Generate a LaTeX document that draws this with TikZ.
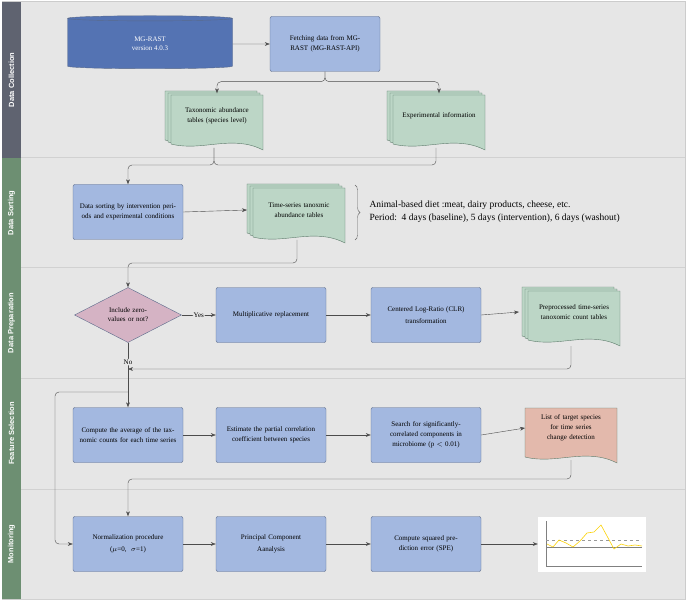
\documentclass[tikz,border=0pt]{standalone}
\usepackage{fontspec}
\setmainfont{Liberation Serif}
\newfontfamily\lanefont{Liberation Sans}
\usetikzlibrary{shapes.geometric,arrows.meta,decorations.pathreplacing}
\definecolor{bgc}{HTML}{E6E6E6}
\definecolor{boxc}{HTML}{A3B8E0}
\definecolor{boxd}{HTML}{5A6A8A}
\definecolor{cylc}{HTML}{5473B3}
\definecolor{docc}{HTML}{BCD6C6}
\definecolor{docd}{HTML}{5C7A6A}
\definecolor{decc}{HTML}{D5B3C4}
\definecolor{listc}{HTML}{E3B9AC}
\definecolor{lanea}{HTML}{5F6370}
\definecolor{laneb}{HTML}{6D8F72}
\tikzset{
  proc/.style  = {draw=boxd, fill=boxc, rounded corners=2pt, minimum width=110pt,
                  minimum height=55pt, text width=100pt, align=center, font=\fontsize{7}{10}\selectfont},
  doctext/.style = {minimum width=80pt, minimum height=45pt, text width=78pt, align=center,
                  font=\fontsize{7}{10}\selectfont},
  link/.style  = {draw=black!70, -{Stealth[length=5pt]}, rounded corners=4pt},
  lane/.style  = {fill=#1, draw=none},
  lanetext/.style = {rotate=90, text=white, font=\lanefont\bfseries\fontsize{7.5}{9}\selectfont}
}
% wavy document sheet centred at (#1,#2)
\newcommand\docsheet[3]{%
  \draw[draw=docd, fill=#3] (#1-46,#2-27) -- (#1+46,#2-27) -- (#1+46,#2+28)
    .. controls (#1+15,#2+12) and (#1-15,#2+30) .. (#1-46,#2+22) -- cycle;}
\newcommand\docstack[3]{%
  \docsheet{#1-6}{#2-4}{#3}\docsheet{#1-3}{#2-2}{#3}\docsheet{#1}{#2}{#3}}
\begin{document}
\begin{tikzpicture}[x=1pt, y=-1pt]
  \useasboundingbox (0,0) rectangle (687,601);
  % lanes
  \fill[bgc] (2,2) rectangle (685,599);
  \draw[black!20, line width=1pt] (2,2) rectangle (685,599);
  \foreach \ya/\yb/\c/\t in {2/158/lanea/Data Collection, 158/268/laneb/Data Sorting,
      268/378/laneb/Data Preparation, 378/489/laneb/Feature Selection, 489/599/laneb/Monitoring}{
    \fill[lane=\c] (2,\ya) rectangle (21,\yb);
    \draw[black!18, line width=1pt] (21,\yb) -- (685,\yb);
    \node[lanetext] at (11.5,{(\ya+\yb)/2}) {\t};
  }
  % data collection
  \node[cylinder, shape border rotate=90, aspect=0.12, draw=boxd, fill=cylc, minimum width=165pt,
        minimum height=53pt, text=white, align=center, font=\fontsize{7}{9}\selectfont] (mgrast) at (150,44)
        {MG-RAST\\version 4.0.3};
  \node[proc] (fetch) at (325,44) {Fetching data from MG-RAST (MG-RAST-API)};
  \docstack{217}{122}{docc}
  \node[doctext] (taxo) at (217,116) {Taxonomic abundance tables (species level)};
  \docstack{439}{122}{docc}
  \node[doctext] (expinfo) at (439,116) {Experimental information};
  % data sorting
  \node[proc] (sorting) at (128,212) {Data sorting by intervention periods and experimental conditions};
  \docstack{299}{215}{docc}
  \node[doctext] (tseries) at (299,210) {Time-series tanoxmic abundance tables};
  \draw[black!60, decorate, decoration={brace, amplitude=5pt}] (355,185) -- (355,240);
  \node[anchor=west, align=left, font=\fontsize{9.5}{13}\selectfont] (diet) at (366,212)
    {Animal-based diet :meat, dairy products, cheese, etc.\\
     Period:\ \ 4 days (baseline), 5 days (intervention), 6 days (washout)};
  % data preparation
  \node[diamond, draw=boxd, fill=decc, aspect=1.55, minimum width=107pt, minimum height=55pt,
        inner sep=0pt, text width=60pt, align=center, font=\fontsize{7}{9}\selectfont] (zero) at (128,315)
        {Include zero-values or not?};
  \node[proc] (mult) at (271,315) {Multiplicative replacement};
  \node[proc] (clr) at (426,315) {Centered Log-Ratio (CLR)\\[2pt] transformation};
  \docstack{574}{318}{docc}
  \node[doctext] (prep) at (574,312) {Preprocessed time-series tanoxomic count tables};
  % feature selection
  \node[proc] (avg) at (128,435) {Compute the average of the taxnomic counts for each time series};
  \node[proc] (pcorr) at (271,435) {Estimate the partial correlation coefficient between species};
  \node[proc] (search) at (426,435) {Search for significantly-correlated components in microbiome (p $<$ 0.01)};
  \docsheet{571}{435}{listc}
  \node[doctext] (target) at (571,428) {List of target species for time series change detection};
  % monitoring
  \node[proc] (norm) at (128,544) {Normalization procedure\\[2pt] ($\mu$=0,\ \ $\sigma$=1)};
  \node[proc] (pca) at (271,544) {Principal Component\\[2pt] Aanalysis};
  \node[proc] (spe) at (426,544) {Compute squared prediction error (SPE)};
  \node[fill=white, minimum width=108pt, minimum height=55pt, inner sep=0pt] (chart) at (592,544) {};
  \draw[black!50, line width=0.3pt] (546,521) -- (546,566) -- (642,566);
  \draw[black!40, line width=0.3pt, dashed] (546,540) -- (642,540);
  \draw[black!50, line width=0.3pt] (546,547) -- (642,547);
  \draw[yellow!70!orange, line width=0.6pt] (547,544) -- (553,547) -- (559,540) -- (566,543)
    -- (573,547) -- (580,541) -- (587,533) -- (594,532) -- (601,525) -- (607,536) -- (614,549)
    -- (621,544) -- (628,546) -- (635,545) -- (642,546);
  % connectors
  \draw[link] (mgrast.east) -- (fetch.west);
  \draw[link] (fetch.south) -- ++(0,10) -| (taxo.north);
  \draw[link] (fetch.south) -- ++(0,10) -| (expinfo.north);
  \coordinate (taxbot) at (214,148);
  \coordinate (expbot) at (436,148);
  \draw[link, -] (taxbot) |- (expbot |- 0,165) -- (expbot);
  \draw[link] (taxbot) |- (sorting.north |- 0,165) -- (sorting.north);
  \draw[link] (sorting.east) -- (tseries.west -| 247,0);
  \coordinate (tsbot) at (297,240);
  \draw[link] (tsbot) |- (zero.north |- 0,263) -- (zero.north);
  \draw[link] (zero.east) -- node[fill=bgc, inner sep=1pt, font=\fontsize{7}{9}\selectfont] {Yes} (mult.west);
  \draw[link] (mult.east) -- (clr.west);
  \draw[link] (clr.east) -- (prep.west -| 519,0);
  \coordinate (prepbot) at (571,346);
  \draw[link] (prepbot) |- (zero.south |- 0,369);
  \draw[link] (zero.south) -- node[pos=0.3, fill=bgc, inner sep=1pt, font=\fontsize{7}{9}\selectfont] {No} (avg.north);
  \draw[link] (avg.east) -- (pcorr.west);
  \draw[link] (pcorr.east) -- (search.west);
  \draw[link] (search.east) -- (target.west -| 525,0);
  \coordinate (targetbot) at (571,460);
  \draw[link] (targetbot) |- (norm.north |- 0,479) -- (norm.north);
  \draw[link] (avg.north |- 0,392) -| (55,450) |- (norm.west);
  \draw[link] (norm.east) -- (pca.west);
  \draw[link] (pca.east) -- (spe.west);
  \draw[link] (spe.east) -- (chart.west);
\end{tikzpicture}
\end{document}
